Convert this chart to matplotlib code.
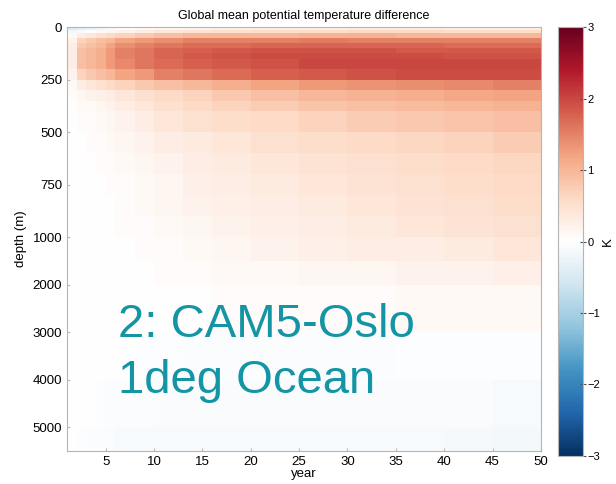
import numpy as np
import matplotlib.pyplot as plt
from matplotlib.scale import FuncScale
from matplotlib.colors import LinearSegmentedColormap

plt.rcParams['font.family'] = ['Liberation Sans', 'DejaVu Sans']

# year bin edges and depth level edges (m)
year_edges = [1, 2, 3, 4, 5, 6, 8, 10, 13, 16, 20, 25, 30, 35, 40, 45, 50]
depth_edges = [0, 15, 30, 50, 75, 100, 125, 150, 200, 250, 300, 350, 400, 500,
               600, 700, 800, 900, 1000, 1500, 2000, 3000, 4000, 5000, 5500]

# temperature difference (K), one row per depth layer, one value per year bin
dT = [
    [-0.4, -0.35, -0.3, -0.2, -0.1, 0.0, 0.1, 0.15, 0.2, 0.25, 0.3, 0.3, 0.35, 0.35, 0.3, 0.3],
    [-0.2, -0.1, 0.0, 0.1, 0.15, 0.2, 0.3, 0.4, 0.45, 0.5, 0.55, 0.55, 0.6, 0.6, 0.55, 0.55],
    [0.1, 0.3, 0.4, 0.5, 0.6, 0.7, 0.8, 0.9, 1.0, 1.0, 1.0, 1.05, 1.05, 1.0, 1.0, 1.0],
    [0.2, 0.7, 0.8, 0.9, 1.0, 1.2, 1.3, 1.4, 1.5, 1.5, 1.5, 1.55, 1.5, 1.5, 1.5, 1.5],
    [0.3, 0.8, 0.9, 1.0, 1.2, 1.4, 1.5, 1.6, 1.7, 1.7, 1.75, 1.75, 1.75, 1.75, 1.7, 1.7],
    [0.3, 0.9, 1.0, 1.1, 1.3, 1.5, 1.6, 1.75, 1.8, 1.85, 1.9, 1.9, 1.9, 1.85, 1.85, 1.85],
    [0.3, 0.9, 1.0, 1.1, 1.3, 1.5, 1.6, 1.75, 1.85, 1.9, 1.95, 1.95, 1.95, 1.95, 1.9, 1.9],
    [0.3, 0.9, 1.0, 1.1, 1.3, 1.45, 1.6, 1.7, 1.8, 1.85, 1.9, 2.0, 2.0, 2.0, 2.0, 2.0],
    [0.2, 0.7, 0.8, 0.9, 1.0, 1.2, 1.3, 1.5, 1.6, 1.7, 1.8, 1.85, 1.9, 1.95, 1.95, 1.95],
    [0.1, 0.3, 0.4, 0.5, 0.6, 0.7, 0.8, 0.9, 1.0, 1.1, 1.2, 1.3, 1.35, 1.4, 1.45, 1.5],
    [0.05, 0.15, 0.2, 0.25, 0.3, 0.4, 0.5, 0.6, 0.7, 0.8, 0.9, 1.0, 1.05, 1.1, 1.15, 1.2],
    [0.0, 0.1, 0.1, 0.15, 0.2, 0.3, 0.4, 0.5, 0.6, 0.7, 0.75, 0.85, 0.9, 0.95, 1.0, 1.05],
    [0.0, 0.05, 0.05, 0.1, 0.15, 0.2, 0.3, 0.4, 0.5, 0.55, 0.6, 0.7, 0.75, 0.8, 0.85, 0.9],
    [0.0, 0.0, 0.05, 0.05, 0.1, 0.15, 0.2, 0.3, 0.35, 0.4, 0.5, 0.55, 0.6, 0.65, 0.7, 0.75],
    [0.0, 0.0, 0.0, 0.05, 0.05, 0.1, 0.15, 0.2, 0.3, 0.35, 0.4, 0.45, 0.5, 0.55, 0.6, 0.65],
    [0.0, 0.0, 0.0, 0.0, 0.05, 0.05, 0.1, 0.15, 0.25, 0.3, 0.35, 0.4, 0.45, 0.5, 0.55, 0.6],
    [0.0, 0.0, 0.0, 0.0, 0.0, 0.05, 0.1, 0.15, 0.2, 0.25, 0.3, 0.35, 0.4, 0.45, 0.5, 0.55],
    [0.0, 0.0, 0.0, 0.0, 0.0, 0.05, 0.05, 0.1, 0.15, 0.2, 0.25, 0.3, 0.35, 0.4, 0.45, 0.5],
    [0.0, 0.0, 0.0, 0.0, 0.0, 0.0, 0.05, 0.05, 0.1, 0.15, 0.2, 0.25, 0.3, 0.3, 0.35, 0.4],
    [0.0, 0.0, 0.0, 0.0, 0.0, 0.0, 0.0, 0.05, 0.05, 0.1, 0.1, 0.15, 0.15, 0.2, 0.2, 0.25],
    [0.0, 0.0, 0.0, 0.0, 0.0, 0.0, 0.0, 0.0, 0.0, 0.05, 0.05, 0.05, 0.05, 0.1, 0.1, 0.1],
    [0.0, 0.0, 0.0, 0.0, 0.0, -0.02, -0.03, -0.04, -0.05, -0.05, -0.05, -0.05, -0.05, -0.03, -0.03, -0.03],
    [0.0, 0.0, -0.02, -0.03, -0.05, -0.06, -0.07, -0.08, -0.08, -0.08, -0.08, -0.08, -0.08, -0.08, -0.08, -0.1],
    [0.0, -0.03, -0.05, -0.06, -0.08, -0.1, -0.1, -0.1, -0.1, -0.1, -0.1, -0.1, -0.1, -0.1, -0.12, -0.15],
]

depth_ticks = [0, 250, 500, 750, 1000, 2000, 3000, 4000, 5000]
year_ticks = [5, 10, 15, 20, 25, 30, 35, 40, 45, 50]
cbar_ticks = [-3, -2, -1, 0, 1, 2, 3]

# diverging map with a pure white centre
cmap = LinearSegmentedColormap.from_list('rdbu_white', [
    '#053061', '#2166ac', '#4393c3', '#92c5de', '#d1e5f0', '#ffffff',
    '#fddbc7', '#f4a582', '#d6604d', '#b2182b', '#67001f'])


# upper 1000 m stretched, deep ocean compressed
def fwd(d):
    d = np.asarray(d, dtype=float)
    return np.where(d <= 1000, d / 250.0, 4 + (d - 1000) / 1000.0 * 0.905)


def inv(y):
    y = np.asarray(y, dtype=float)
    return np.where(y <= 4, y * 250.0, 1000 + (y - 4) / 0.905 * 1000.0)


fig = plt.figure(figsize=(6.16, 4.84), dpi=100)
ax = fig.add_axes([0.109, 0.068, 0.769, 0.876])
cax = fig.add_axes([0.906, 0.058, 0.041, 0.886])

ax.set_yscale(FuncScale(ax, (fwd, inv)))
mesh = ax.pcolormesh(year_edges, depth_edges, np.array(dT), cmap=cmap,
                     vmin=-3, vmax=3, shading='flat')
ax.set_xlim(1, 50)
ax.set_ylim(5500, 0)
ax.set_yticks(depth_ticks)
ax.set_yticklabels([str(t) for t in depth_ticks])
ax.set_xticks(year_ticks)
ax.tick_params(direction='in', length=2, color='#bbbbbb', labelsize=9.5)
for s in ax.spines.values():
    s.set_color('#b5b5b5')
ax.set_xlabel('year', fontsize=9.5, labelpad=0)
ax.set_ylabel('depth (m)', fontsize=9.5, labelpad=4)
ax.set_title('Global mean potential temperature difference', fontsize=9, pad=6)

cb = fig.colorbar(mesh, cax=cax, ticks=cbar_ticks)
cb.outline.set_edgecolor('#b5b5b5')
cax.tick_params(direction='inout', length=4, labelsize=8, color='#555555', pad=1)
cb.set_label('K', fontsize=9.5, labelpad=1)

fig.text(118 / 616, 1 - 337 / 484, '2: CAM5-Oslo', fontsize=34, color='#1495a5',
         va='baseline', ha='left')
fig.text(118 / 616, 1 - 393 / 484, '1deg Ocean', fontsize=34, color='#1495a5',
         va='baseline', ha='left')

fig.savefig('out.png', dpi=100)
